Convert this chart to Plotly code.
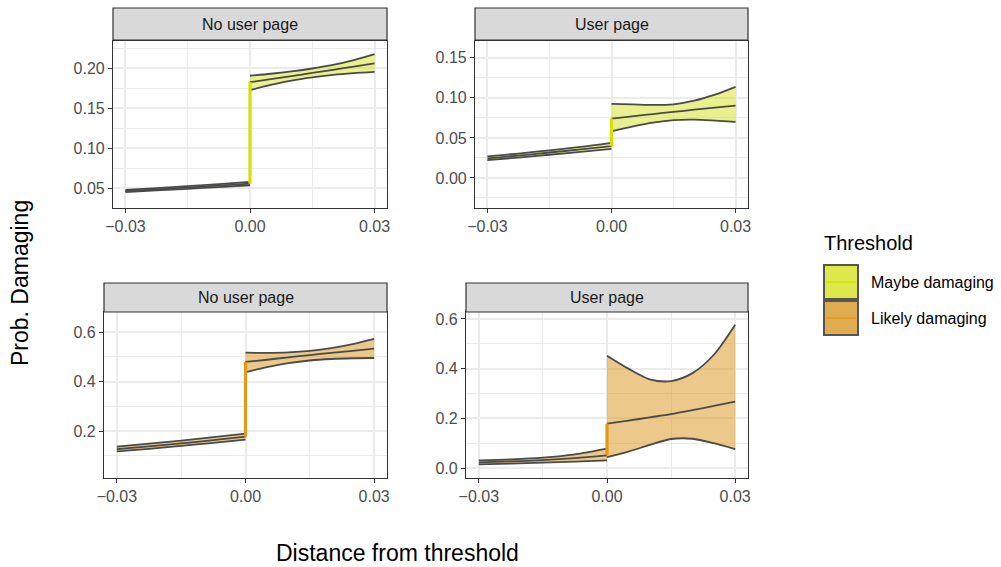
import plotly.graph_objects as go

W, H = 1001, 567

# ---------------- data ----------------
x_left = [-0.03, -0.0225, -0.015, -0.0075, 0.0]
x_right = [0.0, 0.005, 0.01, 0.015, 0.02, 0.025, 0.03]

# Panel: No user page / Maybe damaging
p1_left_lower = [0.0450, 0.0470, 0.0490, 0.0512, 0.0535]
p1_left_mid = [0.0463, 0.0484, 0.0506, 0.0530, 0.0555]
p1_left_upper = [0.0477, 0.0499, 0.0523, 0.0549, 0.0577]
p1_right_lower = [0.1725, 0.1790, 0.1845, 0.1885, 0.1915, 0.1937, 0.1954]
p1_right_mid = [0.1825, 0.1862, 0.1900, 0.1940, 0.1980, 0.2020, 0.2060]
p1_right_upper = [0.1905, 0.1930, 0.1960, 0.1996, 0.2040, 0.2100, 0.2175]

# Panel: User page / Maybe damaging
p2_left_lower = [0.0222, 0.0255, 0.0290, 0.0325, 0.0363]
p2_left_mid = [0.0245, 0.0280, 0.0318, 0.0356, 0.0398]
p2_left_upper = [0.0270, 0.0305, 0.0345, 0.0388, 0.0438]
p2_right_lower = [0.0583, 0.0640, 0.0690, 0.0722, 0.0728, 0.0716, 0.0700]
p2_right_mid = [0.0742, 0.0770, 0.0798, 0.0825, 0.0852, 0.0878, 0.0904]
p2_right_upper = [0.0925, 0.0920, 0.0912, 0.0920, 0.0965, 0.1040, 0.1138]

# Panel: No user page / Likely damaging
p3_left_lower = [0.118, 0.128, 0.140, 0.152, 0.165]
p3_left_mid = [0.127, 0.138, 0.150, 0.163, 0.177]
p3_left_upper = [0.137, 0.149, 0.161, 0.175, 0.189]
p3_right_lower = [0.438, 0.458, 0.474, 0.485, 0.491, 0.494, 0.495]
p3_right_mid = [0.479, 0.488, 0.498, 0.507, 0.516, 0.524, 0.533]
p3_right_upper = [0.5165, 0.516, 0.518, 0.524, 0.535, 0.551, 0.572]

# Panel: User page / Likely damaging
p4_left_lower = [0.015, 0.018, 0.022, 0.026, 0.031]
p4_left_mid = [0.023, 0.027, 0.032, 0.040, 0.051]
p4_left_upper = [0.031, 0.035, 0.042, 0.055, 0.078]
p4_right_lower = [0.044, 0.066, 0.093, 0.117, 0.118, 0.100, 0.076]
p4_right_mid = [0.179, 0.191, 0.204, 0.217, 0.233, 0.250, 0.267]
p4_right_upper = [0.452, 0.400, 0.357, 0.350, 0.382, 0.456, 0.577]

x_tickvals = [-0.03, 0.0, 0.03]
x_ticktext = ["\u22120.03", "0.00", "0.03"]
strip_labels = ["No user page", "User page", "No user page", "User page"]
legend_labels = ["Maybe damaging", "Likely damaging"]

# ---------------- styling ----------------
FONT = "Liberation Sans, Arial, Helvetica, sans-serif"
COL_LINE = "#4a4a4a"
YEL_V = "#d6e000"
YEL_FILL = "rgba(212,226,30,0.5)"
YEL_KEY = "#dee84a"
ORA_V = "#e09a1a"
ORA_FILL = "rgba(218,148,22,0.5)"
ORA_KEY = "#e0ac50"
LW = 1.8

# panel pixel boxes (x0, x1, y0, y1)
boxes = [(113, 387, 41, 208), (475, 748, 41, 208), (104, 387, 312, 478), (466, 748, 312, 478)]
strips = [(8, 40), (8, 40), (283, 312), (283, 312)]
yranges = [[0.025, 0.234], [-0.0375, 0.171], [0.010, 0.681], [-0.040, 0.628]]
ytickvals = [[0.05, 0.10, 0.15, 0.20], [0.00, 0.05, 0.10, 0.15], [0.2, 0.4, 0.6], [0.0, 0.2, 0.4, 0.6]]
yticktext = [["0.05", "0.10", "0.15", "0.20"], ["0.00", "0.05", "0.10", "0.15"], ["0.2", "0.4", "0.6"], ["0.0", "0.2", "0.4", "0.6"]]
ydticks = [0.05, 0.05, 0.2, 0.2]

panels = [
    (p1_left_lower, p1_left_mid, p1_left_upper, p1_right_lower, p1_right_mid, p1_right_upper, YEL_FILL, YEL_V),
    (p2_left_lower, p2_left_mid, p2_left_upper, p2_right_lower, p2_right_mid, p2_right_upper, YEL_FILL, YEL_V),
    (p3_left_lower, p3_left_mid, p3_left_upper, p3_right_lower, p3_right_mid, p3_right_upper, ORA_FILL, ORA_V),
    (p4_left_lower, p4_left_mid, p4_left_upper, p4_right_lower, p4_right_mid, p4_right_upper, ORA_FILL, ORA_V),
]

def px2x(p):
    return p / W

def px2y(p):
    return 1 - p / H

fig = go.Figure()
shapes = []
annotations = []
layout = {}

for i, (box, panel) in enumerate(zip(boxes, panels)):
    n = i + 1
    xa = "x" if n == 1 else f"x{n}"
    ya = "y" if n == 1 else f"y{n}"
    ll, lm, lu, rl, rm, rr, fillc, vcol = panel
    for xs, lo, mid, up in [(x_left, ll, lm, lu), (x_right, rl, rm, rr)]:
        fig.add_trace(go.Scatter(x=xs, y=lo, mode="lines", line=dict(color=COL_LINE, width=LW, shape="spline", smoothing=0.8),
                                 xaxis=xa, yaxis=ya, showlegend=False, hoverinfo="skip"))
        fig.add_trace(go.Scatter(x=xs, y=up, mode="lines", line=dict(color=COL_LINE, width=LW, shape="spline", smoothing=0.8),
                                 fill="tonexty", fillcolor=fillc,
                                 xaxis=xa, yaxis=ya, showlegend=False, hoverinfo="skip"))
        fig.add_trace(go.Scatter(x=xs, y=mid, mode="lines", line=dict(color=COL_LINE, width=LW, shape="spline", smoothing=0.8),
                                 xaxis=xa, yaxis=ya, showlegend=False, hoverinfo="skip"))
    # vertical jump line at the threshold
    fig.add_trace(go.Scatter(x=[x_left[-1], x_right[0]], y=[lm[-1], rm[0]], mode="lines",
                             line=dict(color=vcol, width=3.2), xaxis=xa, yaxis=ya, showlegend=False, hoverinfo="skip"))

    x0, x1, y0, y1 = box
    xkey = "xaxis" if n == 1 else f"xaxis{n}"
    ykey = "yaxis" if n == 1 else f"yaxis{n}"
    layout[xkey] = dict(domain=[px2x(x0), px2x(x1)], range=[-0.033, 0.033], anchor=ya, automargin=False,
                        tickvals=x_tickvals, ticktext=x_ticktext, ticks="outside", ticklen=4,
                        tickcolor="#333333", tickwidth=1.1,
                        tickfont=dict(family=FONT, size=16, color="#4d4d4d"),
                        showgrid=True, gridcolor="#ebebeb", gridwidth=1.6,
                        minor=dict(tickvals=[-0.015, 0.015], showgrid=True, gridcolor="#ebebeb", gridwidth=0.8, ticks=""),
                        showline=True, mirror=True, linecolor="#333333", linewidth=1.2, zeroline=False)
    yt = ytickvals[i]
    minor_vals = [v - ydticks[i] / 2 for v in yt] + [yt[-1] + ydticks[i] / 2]
    layout[ykey] = dict(domain=[px2y(y1), px2y(y0)], range=yranges[i], anchor=xa, automargin=False,
                        tickvals=yt, ticktext=yticktext[i], ticks="outside", ticklen=4,
                        tickcolor="#333333", tickwidth=1.1,
                        tickfont=dict(family=FONT, size=16, color="#4d4d4d"),
                        showgrid=True, gridcolor="#ebebeb", gridwidth=1.6,
                        minor=dict(tickvals=minor_vals, showgrid=True, gridcolor="#ebebeb", gridwidth=0.8, ticks=""),
                        showline=True, mirror=True, linecolor="#333333", linewidth=1.2, zeroline=False)
    # strip
    s0, s1 = strips[i]
    shapes.append(dict(type="rect", xref="paper", yref="paper", x0=px2x(x0), x1=px2x(x1), y0=px2y(s1), y1=px2y(s0),
                       fillcolor="#d9d9d9", line=dict(color="#333333", width=1.2), layer="above"))
    annotations.append(dict(xref="paper", yref="paper", x=px2x((x0 + x1) / 2), y=px2y((s0 + s1) / 2),
                            text=strip_labels[i], showarrow=False, xanchor="center", yanchor="middle",
                            font=dict(family=FONT, size=16, color="#1a1a1a")))

# axis titles
annotations.append(dict(xref="paper", yref="paper", x=px2x(397), y=0.0, text="Distance from threshold",
                        showarrow=False, xanchor="center", yanchor="bottom", borderpad=0,
                        font=dict(family=FONT, size=23, color="#000000")))
annotations.append(dict(xref="paper", yref="paper", x=px2x(20), y=px2y(283), text="Prob. Damaging", textangle=-90,
                        showarrow=False, xanchor="center", yanchor="middle", font=dict(family=FONT, size=23, color="#000000")))

# legend
annotations.append(dict(xref="paper", yref="paper", x=px2x(822), y=px2y(243), text="Threshold",
                        showarrow=False, xanchor="left", yanchor="middle", font=dict(family=FONT, size=20, color="#000000")))
key_cols = [(YEL_KEY, YEL_V), (ORA_KEY, ORA_V)]
key_rows = [(264, 300), (300, 336)]
for (kf, kl), (k0, k1), lab in zip(key_cols, key_rows, legend_labels):
    shapes.append(dict(type="rect", xref="paper", yref="paper", x0=px2x(824), x1=px2x(858), y0=px2y(k1 - 1), y1=px2y(k0 + 1),
                       fillcolor=kf, line=dict(color="#555555", width=2)))
    shapes.append(dict(type="line", xref="paper", yref="paper", x0=px2x(826), x1=px2x(856),
                       y0=px2y((k0 + k1) / 2), y1=px2y((k0 + k1) / 2), line=dict(color=kl, width=1.5)))
    annotations.append(dict(xref="paper", yref="paper", x=px2x(869), y=px2y((k0 + k1) / 2), text=lab,
                            showarrow=False, xanchor="left", yanchor="middle", font=dict(family=FONT, size=16, color="#000000")))

fig.update_layout(width=W, height=H, autosize=False, margin=dict(l=0, r=0, t=0, b=0, pad=0),
                  paper_bgcolor="white", plot_bgcolor="white",
                  shapes=shapes, annotations=annotations, showlegend=False, **layout)

fig.write_html("out.html",
               config={"responsive": False, "displayModeBar": False},
               post_script="document.body.style.margin='0';document.body.style.padding='0';document.body.style.overflow='hidden';")
